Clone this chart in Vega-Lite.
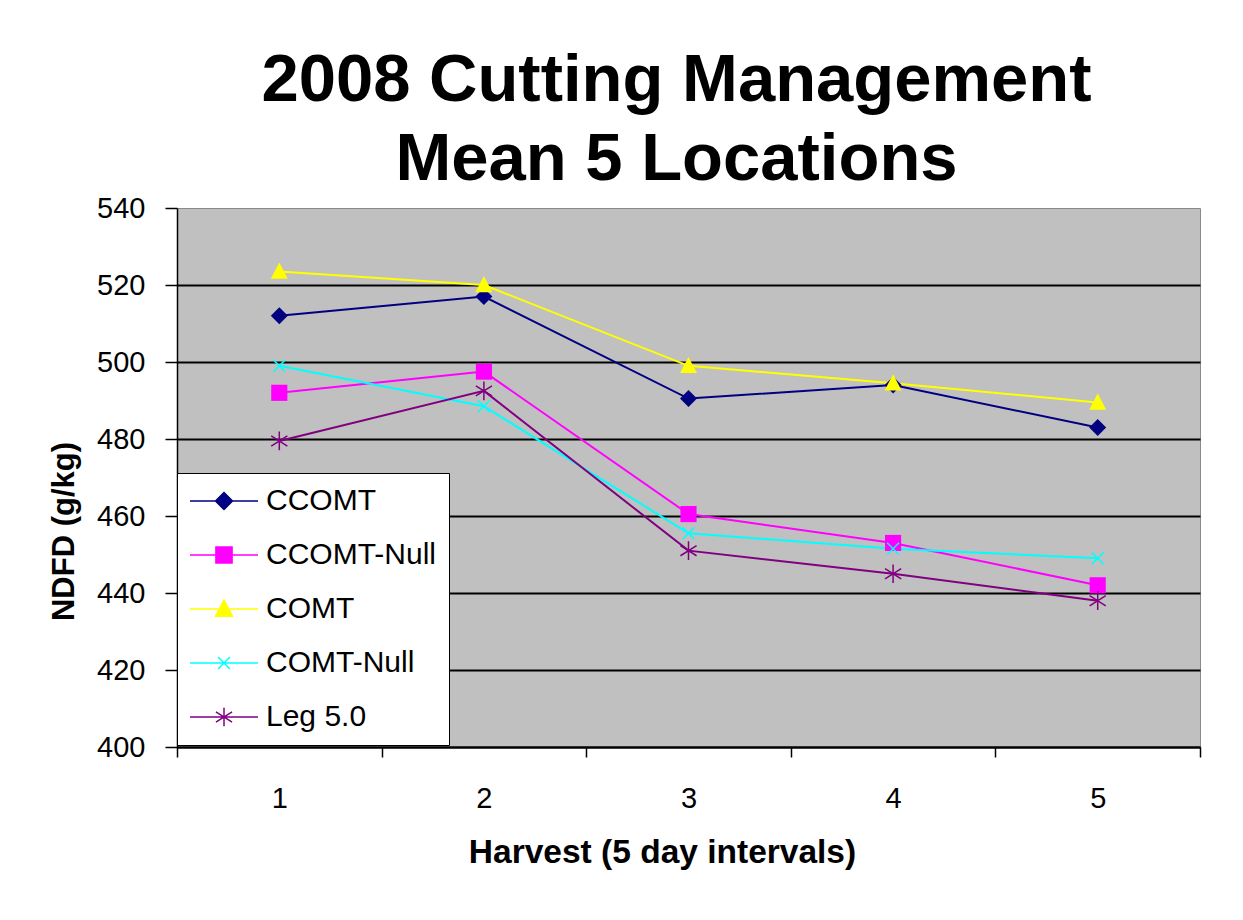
{
  "$schema": "https://vega.github.io/schema/vega-lite/v6.json",
  "width": 1023,
  "height": 539,
  "autosize": "none",
  "padding": {"left": 177, "top": 208, "right": 43, "bottom": 173},
  "background": "white",
  "config": {
    "font": "Liberation Sans",
    "view": {"fill": "#C0C0C0", "stroke": "#8a8a8a", "strokeWidth": 1}
  },
  "title": {
    "text": ["2008 Cutting Management", "Mean 5 Locations"],
    "fontSize": 67,
    "fontWeight": "bold",
    "font": "Liberation Sans",
    "color": "black",
    "lineHeight": 79,
    "anchor": "middle",
    "dx": -12,
    "offset": 0
  },
  "data": {
    "values": [
      {"harvest": 1, "series": "CCOMT", "ndfd": 512},
      {"harvest": 2, "series": "CCOMT", "ndfd": 517},
      {"harvest": 3, "series": "CCOMT", "ndfd": 490.5},
      {"harvest": 4, "series": "CCOMT", "ndfd": 494},
      {"harvest": 5, "series": "CCOMT", "ndfd": 483},
      {"harvest": 1, "series": "CCOMT-Null", "ndfd": 492},
      {"harvest": 2, "series": "CCOMT-Null", "ndfd": 497.5},
      {"harvest": 3, "series": "CCOMT-Null", "ndfd": 460.5},
      {"harvest": 4, "series": "CCOMT-Null", "ndfd": 453},
      {"harvest": 5, "series": "CCOMT-Null", "ndfd": 442},
      {"harvest": 1, "series": "COMT", "ndfd": 523.5},
      {"harvest": 2, "series": "COMT", "ndfd": 520},
      {"harvest": 3, "series": "COMT", "ndfd": 499},
      {"harvest": 4, "series": "COMT", "ndfd": 494.5},
      {"harvest": 5, "series": "COMT", "ndfd": 489.5},
      {"harvest": 1, "series": "COMT-Null", "ndfd": 499},
      {"harvest": 2, "series": "COMT-Null", "ndfd": 488.5},
      {"harvest": 3, "series": "COMT-Null", "ndfd": 455.5},
      {"harvest": 4, "series": "COMT-Null", "ndfd": 451.5},
      {"harvest": 5, "series": "COMT-Null", "ndfd": 449},
      {"harvest": 1, "series": "Leg 5.0", "ndfd": 479.5},
      {"harvest": 2, "series": "Leg 5.0", "ndfd": 492.5},
      {"harvest": 3, "series": "Leg 5.0", "ndfd": 451},
      {"harvest": 4, "series": "Leg 5.0", "ndfd": 445},
      {"harvest": 5, "series": "Leg 5.0", "ndfd": 438}
    ]
  },
  "encoding": {
    "x": {
      "field": "harvest",
      "type": "ordinal",
      "scale": {"type": "band", "paddingInner": 0, "paddingOuter": 0},
      "axis": {
        "tickBand": "extent",
        "labelAngle": 0,
        "domainColor": "black",
        "domainWidth": 2,
        "tickColor": "black",
        "tickWidth": 1.5,
        "tickSize": 10,
        "labelFontSize": 29,
        "labelColor": "black",
        "labelPadding": 27,
        "title": "Harvest (5 day intervals)",
        "titleFontSize": 33.5,
        "titleFontWeight": "bold",
        "titleColor": "black",
        "titlePadding": 23,
        "titleX": 485
      }
    },
    "y": {
      "field": "ndfd",
      "type": "quantitative",
      "scale": {"domain": [400, 540], "nice": false, "zero": false},
      "axis": {
        "values": [400, 420, 440, 460, 480, 500, 520, 540],
        "domainColor": "black",
        "domainWidth": 1.5,
        "tickColor": "black",
        "tickWidth": 1.5,
        "tickSize": 12,
        "labelFontSize": 29,
        "labelColor": "black",
        "labelPadding": 20,
        "grid": true,
        "gridColor": {"condition": {"test": "datum.value === 540", "value": "transparent"}, "value": "black"},
        "gridWidth": 2,
        "gridOpacity": 1,
        "title": "NDFD (g/kg)",
        "titleFontSize": 31,
        "titleFontWeight": "bold",
        "titleColor": "black",
        "titlePadding": 16,
        "titleY": 323
      }
    }
  },
  "layer": [
    {
      "mark": {"type": "line", "strokeWidth": 2},
      "encoding": {
        "color": {
          "field": "series",
          "type": "nominal",
          "scale": {
            "domain": ["CCOMT", "CCOMT-Null", "COMT", "COMT-Null", "Leg 5.0"],
            "range": ["#000080", "#FF00FF", "#FFFF00", "#00FFFF", "#800080"]
          },
          "legend": {
            "orient": "none",
            "legendX": 0,
            "legendY": 265,
            "title": null,
            "fillColor": "white",
            "strokeColor": "black",
            "padding": 13,
            "labelFontSize": 30,
            "labelColor": "black",
            "labelLimit": 400,
            "symbolSize": 289,
            "symbolStrokeWidth": 1.5,
            "symbolOpacity": 1,
            "symbolOffset": 19,
            "labelOffset": 27,
            "rowPadding": 24
          }
        }
      }
    },
    {
      "transform": [{"filter": "datum.series === 'CCOMT'"}],
      "mark": {"type": "point", "filled": true, "opacity": 1, "size": 289, "strokeWidth": 1.5, "shape": "M0,-1L1,0L0,1L-1,0Z"},
      "encoding": {"color": {"field": "series", "type": "nominal"}}
    },
    {
      "transform": [{"filter": "datum.series === 'CCOMT-Null'"}],
      "mark": {"type": "point", "filled": true, "opacity": 1, "size": 289, "strokeWidth": 1.5, "shape": "M-0.95,-0.95H0.95V0.95H-0.95Z"},
      "encoding": {"color": {"field": "series", "type": "nominal"}}
    },
    {
      "transform": [{"filter": "datum.series === 'COMT'"}],
      "mark": {"type": "point", "filled": true, "opacity": 1, "size": 289, "strokeWidth": 1.5, "shape": "M0,-1.05L1,0.85H-1Z"},
      "encoding": {"color": {"field": "series", "type": "nominal"}}
    },
    {
      "transform": [{"filter": "datum.series === 'COMT-Null'"}],
      "mark": {"type": "point", "filled": false, "opacity": 1, "size": 289, "strokeWidth": 1.5, "shape": "M-0.7,-0.7L0.7,0.7M-0.7,0.7L0.7,-0.7"},
      "encoding": {"color": {"field": "series", "type": "nominal"}}
    },
    {
      "transform": [{"filter": "datum.series === 'Leg 5.0'"}],
      "mark": {"type": "point", "filled": false, "opacity": 1, "size": 289, "strokeWidth": 1.5, "shape": "M0,-1.1V1.1M-0.95,-0.6L0.95,0.6M-0.95,0.6L0.95,-0.6"},
      "encoding": {"color": {"field": "series", "type": "nominal"}}
    },
    {
      "transform": [{"filter": "false"}],
      "mark": {"type": "point", "filled": true, "opacity": 1, "size": 289, "strokeWidth": 1.5},
      "encoding": {
        "color": {"field": "series", "type": "nominal"},
        "shape": {
          "field": "series",
          "type": "nominal",
          "scale": {
            "domain": ["CCOMT", "CCOMT-Null", "COMT", "COMT-Null", "Leg 5.0"],
            "range": [
              "M-4,0H4M0,-1L1,0L0,1L-1,0Z",
              "M-4,0H4M-0.95,-0.95H0.95V0.95H-0.95Z",
              "M-4,0H4M0,-1.05L1,0.85H-1Z",
              "M-4,0H4M-0.7,-0.7L0.7,0.7M-0.7,0.7L0.7,-0.7",
              "M-4,0H4M0,-1.1V1.1M-0.95,-0.6L0.95,0.6M-0.95,0.6L0.95,-0.6"
            ]
          }
        }
      }
    }
  ]
}
